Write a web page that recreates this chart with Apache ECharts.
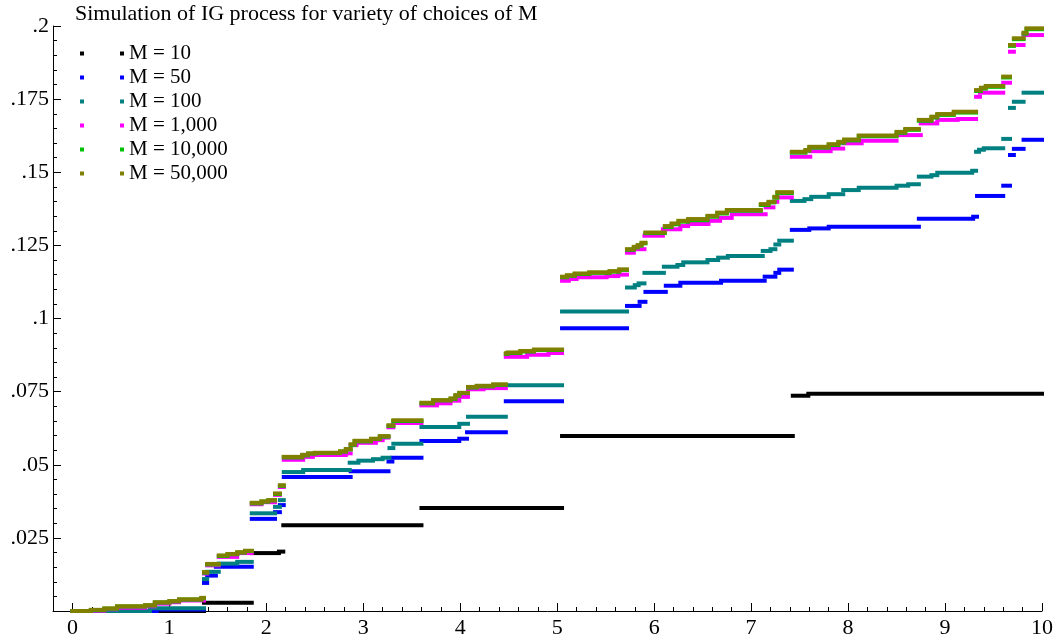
<!DOCTYPE html>
<html>
<head>
<meta charset="utf-8">
<script src="https://cdn.jsdelivr.net/npm/echarts@6/dist/echarts.min.js"></script>
<style>
html, body { margin: 0; padding: 0; background: #fff; }
#chart { width: 1056px; height: 639px; }
</style>
</head>
<body>
<div id="chart"></div>
<script>
// Series labels and colours
const seriesNames = ['M = 10', 'M = 50', 'M = 100', 'M = 1,000', 'M = 10,000', 'M = 50,000'];
const seriesColors = ['#000000', '#0000ff', '#008080', '#ff00ff', '#00c000', '#808000'];

// Tick labels
const xTickLabels = ['0', '1', '2', '3', '4', '5', '6', '7', '8', '9', '10'];
const yTickLabels = ['', '.025', '.05', '.075', '.1', '.125', '.15', '.175', '.2'];

// Each path: jump times and the level held from that time until the next jump (last level runs to t = 10)
const m10Times = [0, 1.357, 1.85, 2.13, 2.175, 3.6, 5.05, 7.43, 7.59];
const m10Levels = [0, 0.0028, 0.0198, 0.0203, 0.0293, 0.0352, 0.0598, 0.0736, 0.0743];

const m50Times = [0, 0.87, 1.357, 1.39, 1.48, 1.85, 2.09, 2.14, 2.18, 2.87, 3.26, 3.3, 3.6, 3.99, 4.07, 4.47, 5.05, 5.72, 5.85, 5.91, 6.12, 6.27, 6.69, 7.14, 7.25, 7.29, 7.42, 7.6, 7.8, 8.73, 9.29, 9.33, 9.6, 9.67, 9.71, 9.81];
const m50Levels = [0, 0.0005, 0.0096, 0.0121, 0.0151, 0.0315, 0.0338, 0.0362, 0.0458, 0.0478, 0.0511, 0.0524, 0.0581, 0.0589, 0.0611, 0.0717, 0.0967, 0.1043, 0.1057, 0.1091, 0.1112, 0.1122, 0.1129, 0.1143, 0.1156, 0.1167, 0.1303, 0.1308, 0.1314, 0.1341, 0.1348, 0.1419, 0.1454, 0.1559, 0.158, 0.1611];

const m100Times = [0, 0.8, 1.357, 1.39, 1.51, 1.7, 1.85, 2.09, 2.14, 2.18, 2.38, 2.86, 2.95, 3.1, 3.2, 3.27, 3.31, 3.6, 3.99, 4.08, 4.47, 5.05, 5.72, 5.8, 5.84, 5.9, 6.1, 6.24, 6.3, 6.55, 6.66, 6.76, 7.12, 7.2, 7.25, 7.29, 7.42, 7.55, 7.62, 7.8, 7.95, 8.11, 8.5, 8.62, 8.73, 8.86, 8.92, 9.28, 9.32, 9.35, 9.4, 9.6, 9.67, 9.71, 9.81];
const m100Levels = [0, 0.0009, 0.0109, 0.0134, 0.0162, 0.0168, 0.0334, 0.0356, 0.0379, 0.0475, 0.0482, 0.0507, 0.0514, 0.0519, 0.0524, 0.0557, 0.0572, 0.0629, 0.064, 0.0664, 0.0772, 0.1024, 0.1106, 0.1114, 0.112, 0.1156, 0.1177, 0.1183, 0.1192, 0.12, 0.1208, 0.1214, 0.1231, 0.1237, 0.1253, 0.1266, 0.1402, 0.1408, 0.1416, 0.1425, 0.1439, 0.1447, 0.1454, 0.1459, 0.1485, 0.149, 0.1498, 0.1505, 0.157, 0.1577, 0.1582, 0.1614, 0.172, 0.1741, 0.1772];

const m1000Times = [0, 0.19, 0.33, 0.46, 0.75, 0.85, 1.0, 1.1, 1.357, 1.39, 1.51, 1.7, 1.85, 1.95, 2.09, 2.14, 2.18, 2.38, 2.48, 2.82, 2.87, 2.93, 3.13, 3.2, 3.26, 3.31, 3.6, 3.76, 3.9, 3.99, 4.08, 4.24, 4.47, 4.69, 4.91, 5.05, 5.12, 5.2, 5.51, 5.63, 5.72, 5.79, 5.9, 6.09, 6.27, 6.35, 6.56, 6.68, 6.8, 7.15, 7.23, 7.27, 7.42, 7.61, 7.82, 7.95, 8.14, 8.5, 8.75, 8.92, 9.13, 9.32, 9.36, 9.6, 9.67, 9.71, 9.81];
const m1000Levels = [0, 0.0001, 0.0006, 0.0011, 0.0016, 0.0025, 0.003, 0.0036, 0.0128, 0.0156, 0.0185, 0.0198, 0.0365, 0.0372, 0.0397, 0.0424, 0.0517, 0.0527, 0.0533, 0.0539, 0.0567, 0.0575, 0.0584, 0.0593, 0.0628, 0.0643, 0.0703, 0.071, 0.0719, 0.0732, 0.0758, 0.0762, 0.0869, 0.0876, 0.0882, 0.1129, 0.1135, 0.1141, 0.1145, 0.115, 0.1225, 0.1237, 0.1283, 0.1305, 0.1316, 0.1323, 0.1334, 0.1344, 0.1356, 0.138, 0.1399, 0.1414, 0.1553, 0.1572, 0.1581, 0.1599, 0.1608, 0.1627, 0.1667, 0.1679, 0.1682, 0.1758, 0.1772, 0.1806, 0.1912, 0.1935, 0.1969];

const m10000Times = [0, 0.19, 0.33, 0.46, 0.75, 0.85, 1.0, 1.1, 1.33, 1.357, 1.39, 1.51, 1.6, 1.7, 1.78, 1.85, 1.95, 2.02, 2.09, 2.14, 2.18, 2.37, 2.43, 2.5, 2.76, 2.82, 2.87, 2.91, 3.08, 3.17, 3.26, 3.31, 3.6, 3.72, 3.9, 3.95, 3.99, 4.08, 4.17, 4.34, 4.47, 4.49, 4.62, 4.76, 5.05, 5.1, 5.18, 5.33, 5.54, 5.64, 5.72, 5.79, 5.83, 5.87, 5.91, 6.11, 6.18, 6.25, 6.35, 6.55, 6.65, 6.75, 7.1, 7.18, 7.24, 7.27, 7.42, 7.56, 7.6, 7.8, 7.9, 7.96, 8.11, 8.5, 8.59, 8.73, 8.86, 8.92, 9.09, 9.32, 9.37, 9.42, 9.6, 9.67, 9.71, 9.81, 9.84];
const m10000Levels = [0, 0.0003, 0.0008, 0.0015, 0.0019, 0.0029, 0.0033, 0.0039, 0.0044, 0.0131, 0.0159, 0.0188, 0.0194, 0.02, 0.0205, 0.0368, 0.0374, 0.0378, 0.04, 0.0428, 0.0525, 0.0532, 0.0538, 0.054, 0.0545, 0.0552, 0.0568, 0.058, 0.0588, 0.0596, 0.0633, 0.065, 0.071, 0.072, 0.0725, 0.0736, 0.0745, 0.0764, 0.0768, 0.0773, 0.0879, 0.0882, 0.0887, 0.0892, 0.1141, 0.1146, 0.1152, 0.1156, 0.116, 0.1166, 0.1235, 0.1243, 0.1249, 0.1257, 0.1292, 0.1313, 0.1322, 0.1331, 0.1336, 0.1348, 0.1359, 0.1368, 0.1388, 0.1397, 0.1413, 0.1429, 0.1567, 0.1574, 0.1584, 0.1593, 0.1601, 0.1609, 0.1623, 0.1635, 0.1645, 0.1676, 0.1687, 0.1696, 0.1704, 0.1778, 0.1786, 0.1792, 0.1824, 0.1932, 0.1955, 0.1974, 0.1989];

const m50000Times = [0, 0.19, 0.33, 0.46, 0.75, 0.85, 1.0, 1.1, 1.33, 1.357, 1.39, 1.51, 1.6, 1.7, 1.78, 1.85, 1.95, 2.02, 2.09, 2.14, 2.18, 2.37, 2.43, 2.5, 2.76, 2.82, 2.87, 2.91, 3.08, 3.17, 3.26, 3.31, 3.6, 3.72, 3.9, 3.95, 3.99, 4.08, 4.17, 4.34, 4.47, 4.49, 4.62, 4.76, 5.05, 5.1, 5.18, 5.33, 5.54, 5.64, 5.72, 5.79, 5.83, 5.87, 5.91, 6.11, 6.18, 6.25, 6.35, 6.55, 6.65, 6.75, 7.1, 7.18, 7.24, 7.27, 7.42, 7.56, 7.6, 7.8, 7.9, 7.96, 8.11, 8.5, 8.59, 8.73, 8.86, 8.92, 9.09, 9.32, 9.37, 9.42, 9.6, 9.67, 9.71, 9.81, 9.84];
const m50000Levels = [0, 0.0004, 0.0009, 0.0016, 0.002, 0.003, 0.0034, 0.004, 0.0045, 0.0133, 0.0161, 0.019, 0.0195, 0.0201, 0.0206, 0.037, 0.0375, 0.0379, 0.0402, 0.043, 0.0527, 0.0534, 0.0539, 0.0541, 0.0546, 0.0554, 0.057, 0.0582, 0.0589, 0.0598, 0.0635, 0.0652, 0.0712, 0.0721, 0.0727, 0.0738, 0.0746, 0.0766, 0.077, 0.0775, 0.0881, 0.0884, 0.0889, 0.0894, 0.1143, 0.1148, 0.1154, 0.1158, 0.1162, 0.1168, 0.1237, 0.1245, 0.1251, 0.1259, 0.1294, 0.1316, 0.1325, 0.1334, 0.134, 0.1351, 0.1362, 0.1371, 0.1391, 0.1399, 0.1416, 0.1432, 0.157, 0.1576, 0.1587, 0.1596, 0.1604, 0.1612, 0.1626, 0.1638, 0.1648, 0.1679, 0.169, 0.1699, 0.1707, 0.1781, 0.1789, 0.1795, 0.1827, 0.1935, 0.1958, 0.1977, 0.1992];

const pathTimes = [m10Times, m50Times, m100Times, m1000Times, m10000Times, m50000Times];
const pathLevels = [m10Levels, m50Levels, m100Levels, m1000Levels, m10000Levels, m50000Levels];

const T_END = 10;
const FONT = '"Liberation Serif", "Times New Roman", serif';

// Turn a step path into horizontal pieces [tStart, tEnd, level]
function toSegments(times, levels) {
  return times.map((t, i) => [t, i + 1 < times.length ? times[i + 1] : T_END, levels[i]]);
}

// Each piece is a thick horizontal bar placed through the axes' scales
function renderStep(params, api) {
  const level = api.value(2);
  const a = api.coord([api.value(0), level]);
  const b = api.coord([api.value(1), level]);
  return {
    type: 'rect',
    shape: { x: a[0] - 2, y: a[1] - 2, width: b[0] - a[0] + 4, height: 4 },
    style: { fill: api.visual('color') }
  };
}

const majorXTicks = xTickLabels.map(Number);
const minorXTicks = [];
for (let k = 0; k <= 50; k++) minorXTicks.push(+(k * 0.2).toFixed(1));

const chart = echarts.init(document.getElementById('chart'), null, { renderer: 'canvas' });

chart.setOption({
  animation: false,
  backgroundColor: '#ffffff',
  title: {
    text: 'Simulation of IG process for variety of choices of M',
    left: 75,
    top: 3,
    padding: 0,
    textStyle: { fontFamily: FONT, fontSize: 22, fontWeight: 'normal', color: '#000' }
  },
  legend: {
    data: seriesNames,
    orient: 'vertical',
    left: 80,
    top: 43,
    padding: 0,
    icon: 'path://M0,0h1v1h-1zM10,0h1v1h-1z',
    itemWidth: 44,
    itemHeight: 4,
    itemGap: 3,
    selectedMode: false,
    textStyle: { fontFamily: FONT, fontSize: 21, color: '#000' }
  },
  grid: { left: 53, right: 14, top: 26, bottom: 28, containLabel: false },
  xAxis: [
    {
      type: 'value',
      min: -0.2,
      max: 10,
      position: 'bottom',
      splitLine: { show: false },
      axisLine: { onZero: false, lineStyle: { color: '#000', width: 1 } },
      axisTick: { inside: true, length: 8, customValues: majorXTicks, lineStyle: { color: '#000' } },
      axisLabel: {
        customValues: majorXTicks,
        margin: 6,
        fontFamily: FONT,
        fontSize: 22,
        color: '#000',
        formatter: v => xTickLabels[Math.round(v)]
      }
    },
    {
      type: 'value',
      min: -0.2,
      max: 10,
      position: 'bottom',
      splitLine: { show: false },
      axisLine: { show: false, onZero: false },
      axisTick: { inside: true, length: 4, customValues: minorXTicks, lineStyle: { color: '#000' } },
      axisLabel: { show: false }
    }
  ],
  yAxis: {
    type: 'value',
    min: 0,
    max: 0.2,
    interval: 0.025,
    splitLine: { show: false },
    axisLine: { show: true, onZero: false, lineStyle: { color: '#000', width: 1 } },
    axisTick: { inside: true, length: 8, lineStyle: { color: '#000' } },
    minorTick: { show: true, splitNumber: 5, length: 4, lineStyle: { color: '#000' } },
    axisLabel: {
      margin: 4,
      fontFamily: FONT,
      fontSize: 22,
      color: '#000',
      formatter: v => yTickLabels[Math.round(v / 0.025)]
    }
  },
  series: seriesNames.map((name, i) => ({
    name: name,
    type: 'custom',
    xAxisIndex: 0,
    yAxisIndex: 0,
    renderItem: renderStep,
    itemStyle: { color: seriesColors[i] },
    encode: { x: [0, 1], y: 2 },
    z: 2 + i,
    data: toSegments(pathTimes[i], pathLevels[i])
  }))
});
</script>
</body>
</html>
